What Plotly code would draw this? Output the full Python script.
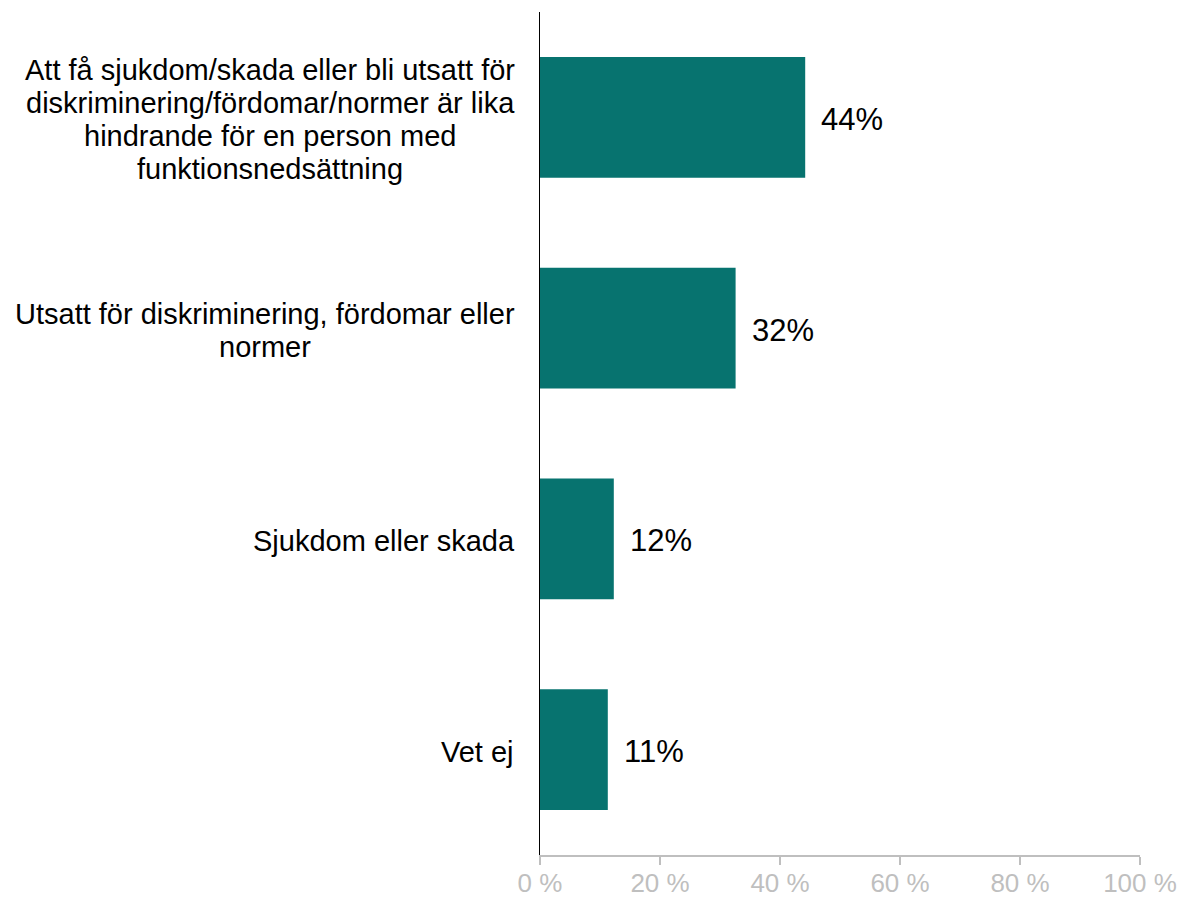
import plotly.graph_objects as go

categories = [
    "Att få sjukdom/skada eller bli utsatt för<br>diskriminering/fördomar/normer är lika<br>hindrande för en person med<br>funktionsnedsättning",
    "Utsatt för diskriminering, fördomar eller<br>normer",
    "Sjukdom eller skada",
    "Vet ej",
]
values = [44.2, 32.6, 12.3, 11.3]
value_labels = ["44%", "32%", "12%", "11%"]
tick_vals = [0, 20, 40, 60, 80, 100]
tick_text = ["0 %", "20 %", "40 %", "60 %", "80 %", "100 %"]

BAR_COLOR = "#07736F"
FONT = "Arial, 'Liberation Sans', sans-serif"
CAT_SIZE = 29
LINE_H = 33
LABEL_RIGHT = -25  # px from axis

# Arial / Liberation Sans advance widths (per 1000 em)
W = {
    'a': 556, 'b': 556, 'c': 500, 'd': 556, 'e': 556, 'f': 278, 'g': 556, 'h': 556,
    'i': 222, 'j': 222, 'k': 500, 'l': 222, 'm': 833, 'n': 556, 'o': 556, 'p': 556,
    'q': 556, 'r': 333, 's': 500, 't': 278, 'u': 556, 'v': 500, 'w': 722, 'x': 500,
    'y': 500, 'z': 500, ' ': 278, '/': 278, ',': 278, 'å': 556, 'ä': 556, 'ö': 556,
    'A': 667, 'U': 722, 'S': 667, 'V': 667,
}


def text_width(s, size):
    return sum(W.get(ch, 556) for ch in s) / 1000.0 * size


fig = go.Figure()
fig.add_trace(go.Bar(
    x=values,
    y=categories,
    orientation="h",
    marker=dict(color=BAR_COLOR, line=dict(width=0)),
    hoverinfo="skip",
))

annotations = []
for cat, v, lab in zip(categories, values, value_labels):
    lines = cat.split("<br>")
    n = len(lines)
    wmax = max(text_width(l, CAT_SIZE) for l in lines)
    for k, line in enumerate(lines):
        annotations.append(dict(
            xref="paper", yref="y", x=0, y=cat,
            xanchor="center", yanchor="middle",
            xshift=LABEL_RIGHT - wmax / 2,
            yshift=-(k - (n - 1) / 2) * LINE_H - 2,
            text=line, showarrow=False,
            font=dict(family=FONT, size=CAT_SIZE, color="#000000"),
        ))
    annotations.append(dict(
        xref="x", yref="y", x=v, y=cat,
        xanchor="left", yanchor="middle", xshift=14, yshift=-2,
        text=lab, showarrow=False,
        font=dict(family=FONT, size=31, color="#000000"),
    ))

fig.update_layout(
    width=1182, height=900,
    margin=dict(l=540, r=42, t=12, b=45, autoexpand=False),
    plot_bgcolor="white", paper_bgcolor="white",
    bargap=0.427,
    showlegend=False,
    annotations=annotations,
    xaxis=dict(
        range=[0, 100], tickvals=tick_vals, ticktext=tick_text,
        showgrid=False, zeroline=False, automargin=False,
        showline=True, linecolor="#BFBFBF", linewidth=1.5,
        ticks="outside", ticklen=8, tickcolor="#BFBFBF", tickwidth=1.5,
        tickfont=dict(family=FONT, size=26, color="#BFBFBF"),
        ticklabeloverflow="allow", ticklabelstandoff=-4,
        fixedrange=True,
    ),
    yaxis=dict(
        autorange="reversed", showticklabels=False, automargin=False,
        showgrid=False, zeroline=False,
        showline=True, linecolor="#000000", linewidth=1.5,
        ticks="", fixedrange=True,
    ),
)

fig.write_html(
    "out.html",
    config={"displayModeBar": False, "staticPlot": True},
    post_script="document.body.style.margin='0';document.documentElement.style.overflow='hidden';",
)
